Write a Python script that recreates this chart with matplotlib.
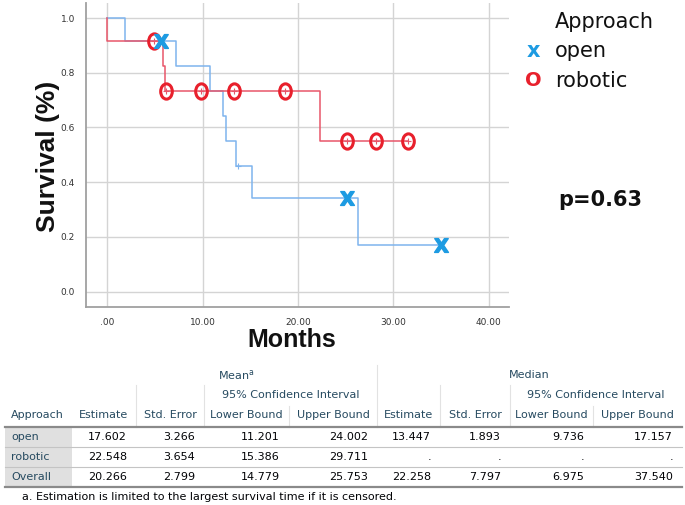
import matplotlib
matplotlib.use("Agg")
import matplotlib.pyplot as plt
from matplotlib.lines import Line2D
from matplotlib.patches import Rectangle
from matplotlib.path import Path

# ---------------- data ----------------
open_times = [0.0, 1.9, 7.2, 10.8, 12.1, 12.5, 13.5, 15.15, 26.3, 35.0]
open_surv = [1.0, 0.917, 0.825, 0.733, 0.642, 0.550, 0.458, 0.344, 0.172, 0.172]
open_cens_big_x = [5.6, 25.2, 35.0]
open_cens_big_y = [0.917, 0.344, 0.172]
open_cens_small_x = [13.7]
open_cens_small_y = [0.458]

rob_times = [0.0, 0.0, 5.8, 6.05, 22.3, 31.55]
rob_surv = [1.0, 0.917, 0.825, 0.733, 0.550, 0.550]
rob_cens_x = [4.9, 6.2, 9.87, 13.3, 18.6, 25.1, 28.2, 31.55]
rob_cens_y = [0.917, 0.733, 0.733, 0.733, 0.733, 0.550, 0.550, 0.550]

x_ticks = [0, 10, 20, 30, 40]
x_ticklabels = [".00", "10.00", "20.00", "30.00", "40.00"]
y_ticks = [0.0, 0.2, 0.4, 0.6, 0.8, 1.0]
y_ticklabels = ["0.0", "0.2", "0.4", "0.6", "0.8", "1.0"]

legend_title = "Approach"
groups = ["open", "robotic"]
p_text = "p=0.63"

col_headers = ["Approach", "Estimate", "Std. Error", "Lower Bound", "Upper Bound",
               "Estimate", "Std. Error", "Lower Bound", "Upper Bound"]
row_labels = ["open", "robotic", "Overall"]
table_values = [
    ["17.602", "3.266", "11.201", "24.002", "13.447", "1.893", "9.736", "17.157"],
    ["22.548", "3.654", "15.386", "29.711", ".", ".", ".", "."],
    ["20.266", "2.799", "14.779", "25.753", "22.258", "7.797", "6.975", "37.540"],
]
footnote = "a. Estimation is limited to the largest survival time if it is censored."

# ---------------- figure ----------------
W, H = 685, 505
fig = plt.figure(figsize=(W / 100, H / 100), dpi=100)

def fx(px):
    return px / W

def fy(py):
    return 1 - py / H

ax = fig.add_axes([fx(86), fy(306.7), fx(509) - fx(86), fy(3) - fy(306.7)])
ax.set_xlim(-2.24, 42.15)
ax.set_ylim(-0.055, 1.055)

blue_line = "#7fb4ee"
blue_mark = "#1d9be2"
red_line = "#e8566a"
red_mark = "#e8202c"

ax.grid(True, color="#d4d4d4", linewidth=1.0)
ax.set_axisbelow(True)
for s in ["top", "right"]:
    ax.spines[s].set_visible(False)
for s in ["left", "bottom"]:
    ax.spines[s].set_color("#a0a0a0")
    ax.spines[s].set_linewidth(1.3)
ax.set_xticks(x_ticks)
ax.set_xticklabels(x_ticklabels)
ax.set_yticks(y_ticks)
ax.set_yticklabels(y_ticklabels)
ax.tick_params(length=0, labelsize=6.5, labelcolor="#333333", pad=8)

ax.step(open_times, open_surv, where="post", color=blue_line, lw=1.1, zorder=3)
ax.step(rob_times, rob_surv, where="post", color=red_line, lw=1.1, zorder=3)

# ellipse marker (tall letter-O shape)
circ = Path.unit_circle()
ell = Path(circ.vertices * [0.76, 1.0], circ.codes)

ax.plot(open_cens_small_x, open_cens_small_y, ls="none", marker="+", ms=4,
        mew=0.8, color=blue_line, zorder=4)
ax.plot(rob_cens_x, rob_cens_y, ls="none", marker="+", ms=4, mew=0.8,
        color=red_line, zorder=5)
ax.plot(rob_cens_x, rob_cens_y, ls="none", marker=ell, ms=11, mew=2.2,
        mfc="none", mec=red_mark, zorder=6)
ax.plot(open_cens_big_x, open_cens_big_y, ls="none", marker=r"$\mathbf{X}$", ms=10,
        color=blue_mark, zorder=7)

fig.text(fx(48), fy(156), "Survival (%)", rotation=90, ha="center", va="center",
         fontsize=19, fontweight="bold", family="Liberation Sans", color="#111111")
fig.text(fx(292), fy(340), "Months", ha="center", va="center",
         fontsize=18, fontweight="bold", family="Liberation Sans", color="#111111")

# legend
fig.text(fx(555), fy(22), legend_title, ha="left", va="center", fontsize=15,
         color="#111111")
fig.text(fx(533), fy(51), "x", ha="center", va="center", fontsize=15,
         fontweight="bold", color=blue_mark)
fig.text(fx(555), fy(51), groups[0], ha="left", va="center", fontsize=15,
         color="#111111")
fig.text(fx(533), fy(81), "O", ha="center", va="center", fontsize=14,
         fontweight="bold", color=red_mark)
fig.text(fx(555), fy(81), groups[1], ha="left", va="center", fontsize=15,
         color="#111111")
fig.text(fx(558), fy(200), p_text, ha="left", va="center", fontsize=15,
         fontweight="bold", color="#111111")

# ---------------- table ----------------
hdr_col = "#264a60"
dat_col = "#010205"
tfs = 8
bounds = [5, 72, 136, 204, 289, 377, 440, 510, 593, 682]
y_mean = 375
y_ci = 395
y_hdr = 415
row_y = [437, 457, 477]
line_hdr = 426.5
row_lines = [447, 467]
line_bot = 487

def hline(py, x0, x1, color, lw):
    fig.add_artist(Line2D([fx(x0), fx(x1)], [fy(py), fy(py)], color=color, lw=lw,
                          transform=fig.transFigure))

def vline(px, y0, y1, color, lw):
    fig.add_artist(Line2D([fx(px), fx(px)], [fy(y0), fy(y1)], color=color, lw=lw,
                          transform=fig.transFigure))

# label column background
fig.add_artist(Rectangle((fx(bounds[0]), fy(line_bot)), fx(bounds[1]) - fx(bounds[0]),
                         fy(line_hdr) - fy(line_bot), transform=fig.transFigure,
                         facecolor="#e0e0e0", edgecolor="none", zorder=0))

# header separators
vc = "#e2e2e2"
vline(377, 365, line_hdr, vc, 0.8)
for b in [136, 204, 440, 510]:
    vline(b, 385, line_hdr, vc, 0.8)
for b in [289, 593]:
    vline(b, 406, line_hdr, vc, 0.8)

hline(line_hdr, bounds[0], bounds[-1], "#8a8a8a", 1.6)
for ly in row_lines:
    hline(ly, bounds[0], bounds[-1], "#c4c4c4", 0.8)
hline(line_bot, bounds[0], bounds[-1], "#8a8a8a", 1.6)

fig.text(fx((bounds[1] + bounds[5]) / 2 + 12), fy(y_mean), r"Mean$^{\mathrm{a}}$",
         ha="center", va="center", fontsize=tfs, color=hdr_col)
fig.text(fx((bounds[5] + bounds[9]) / 2), fy(y_mean), "Median",
         ha="center", va="center", fontsize=tfs, color=hdr_col)
fig.text(fx((bounds[3] + bounds[5]) / 2), fy(y_ci), "95% Confidence Interval",
         ha="center", va="center", fontsize=tfs, color=hdr_col)
fig.text(fx((bounds[7] + bounds[9]) / 2), fy(y_ci), "95% Confidence Interval",
         ha="center", va="center", fontsize=tfs, color=hdr_col)

fig.text(fx(11), fy(y_hdr), col_headers[0], ha="left", va="center", fontsize=tfs,
         color=hdr_col)
for i, h in enumerate(col_headers[1:]):
    cx = (bounds[i + 1] + bounds[i + 2]) / 2
    fig.text(fx(cx), fy(y_hdr), h, ha="center", va="center", fontsize=tfs,
             color=hdr_col)

for r, (lab, vals) in enumerate(zip(row_labels, table_values)):
    fig.text(fx(11), fy(row_y[r]), lab, ha="left", va="center", fontsize=tfs,
             color=hdr_col)
    for i, v in enumerate(vals):
        fig.text(fx(bounds[i + 2] - 9), fy(row_y[r]), v, ha="right", va="center",
                 fontsize=tfs, color=dat_col)

fig.text(fx(22), fy(497), footnote, ha="left", va="center", fontsize=tfs,
         color=dat_col)

fig.savefig("out.png", dpi=100, facecolor="white")
